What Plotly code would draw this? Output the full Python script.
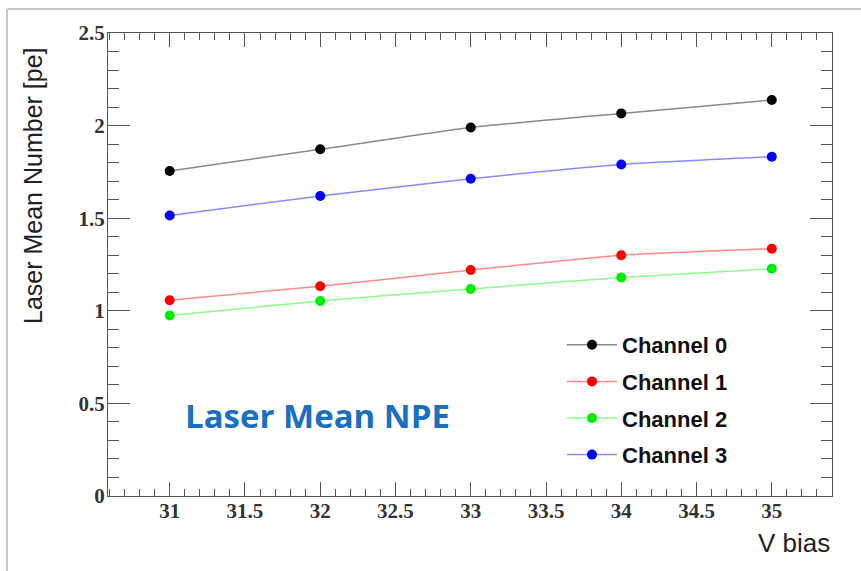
import plotly.graph_objects as go

v_bias = [31, 32, 33, 34, 35]
channel_names = ["Channel 0", "Channel 1", "Channel 2", "Channel 3"]
ch0 = [1.755, 1.872, 1.990, 2.066, 2.138]
ch1 = [1.057, 1.133, 1.220, 1.300, 1.335]
ch2 = [0.975, 1.053, 1.118, 1.180, 1.227]
ch3 = [1.515, 1.620, 1.713, 1.790, 1.832]
series = [ch0, ch1, ch2, ch3]
marker_colors = ["#000000", "#ff0000", "#00ee00", "#0000ff"]
line_colors = ["#8a8a8a", "#ff8a8a", "#8aff8a", "#8a8aff"]
x_tickvals = [31, 31.5, 32, 32.5, 33, 33.5, 34, 34.5, 35]
x_ticktext = ["31", "31.5", "32", "32.5", "33", "33.5", "34", "34.5", "35"]
y_tickvals = [0, 0.5, 1, 1.5, 2, 2.5]
y_ticktext = ["0", "0.5", "1", "1.5", "2", "2.5"]

W, H = 861, 571
L, R, T, B = 108, 29, 33, 75
pw, ph = W - L - R, H - T - B

fig = go.Figure()
for name, vals, mc, lc in zip(channel_names, series, marker_colors, line_colors):
    fig.add_trace(go.Scatter(
        x=v_bias, y=vals, name="<b>" + name + "</b>", legendgroup=name,
        mode="lines+markers",
        line=dict(color=lc, width=1.5, shape="spline", smoothing=0.5),
        marker=dict(color=mc, size=10),
    ))

axcol = "#555555"
serif = "Liberation Serif"
tf = dict(family=serif, size=21, color="#333333", weight="bold")

def px_x(p):
    return (p - L) / pw

def px_y(p):
    return (H - B - p) / ph

annotations = [
    dict(text="Laser Mean Number [pe]", xref="paper", yref="paper",
         x=px_x(33), y=px_y(186), textangle=-90, showarrow=False,
         font=dict(family="Liberation Sans", size=25, color="#222222"),
         xanchor="center", yanchor="middle"),
    dict(text="V bias", xref="paper", yref="paper",
         x=px_x(832), y=px_y(543), showarrow=False,
         font=dict(family="Liberation Sans", size=26, color="#222222"),
         xanchor="right", yanchor="middle"),
    dict(text="<b>Laser Mean NPE</b>", xref="paper", yref="paper",
         x=px_x(183), y=px_y(415), showarrow=False,
         font=dict(family="Open Sans", size=33, color="#1a6fc0"),
         xanchor="left", yanchor="middle"),
]

shapes = [
    dict(type="line", xref="paper", yref="paper", x0=px_x(7), x1=px_x(861), y0=px_y(9), y1=px_y(9),
         line=dict(color="#c8c8c8", width=2)),
    dict(type="line", xref="paper", yref="paper", x0=px_x(7), x1=px_x(7), y0=px_y(9), y1=px_y(571),
         line=dict(color="#c8c8c8", width=2)),
]

fig.update_layout(
    width=W, height=H,
    margin=dict(l=L, r=R, t=T, b=B),
    paper_bgcolor="white", plot_bgcolor="white",
    font=dict(family=serif, size=21, color="#333333"),
    showlegend=True,
    legend=dict(
        x=px_x(562), y=px_y(324), xanchor="left", yanchor="top",
        bgcolor="rgba(0,0,0,0)", borderwidth=0,
        font=dict(family="Liberation Sans", size=22, color="#111111"),
        tracegroupgap=5, itemwidth=50,
    ),
    annotations=annotations, shapes=shapes,
)
fig.update_xaxes(
    range=[30.59, 35.4], tickmode="array",
    tickvals=x_tickvals, ticktext=x_ticktext,
    ticks="inside", ticklen=14, tickwidth=1, tickcolor=axcol,
    minor=dict(ticks="inside", ticklen=7, dtick=0.1, tick0=30, tickcolor=axcol, showgrid=False),
    showline=True, linecolor=axcol, linewidth=1.2, mirror="allticks",
    showgrid=False, zeroline=False,
    tickfont=tf, ticklabelstandoff=-4,
)
fig.update_yaxes(
    range=[0, 2.5], tickmode="array",
    tickvals=y_tickvals, ticktext=y_ticktext,
    ticks="inside", ticklen=22, tickwidth=1, tickcolor=axcol,
    minor=dict(ticks="inside", ticklen=11, dtick=0.1, tick0=0, tickcolor=axcol, showgrid=False),
    showline=True, linecolor=axcol, linewidth=1.2, mirror="allticks",
    showgrid=False, zeroline=False,
    tickfont=tf, ticklabelstandoff=-2,
)

fig.write_html("out.html")
